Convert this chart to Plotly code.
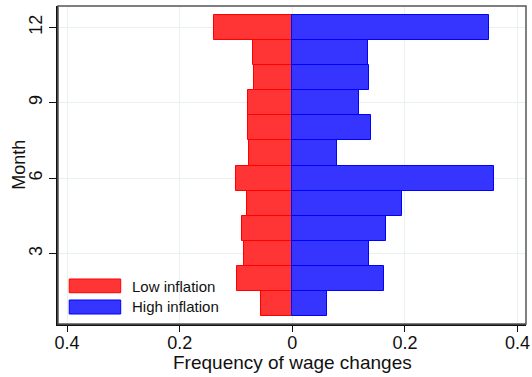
import plotly.graph_objects as go

months = [1, 2, 3, 4, 5, 6, 7, 8, 9, 10, 11, 12]
low_inflation = [0.055, 0.098, 0.086, 0.089, 0.080, 0.100, 0.077, 0.079, 0.079, 0.068, 0.070, 0.139]
high_inflation = [0.062, 0.163, 0.136, 0.166, 0.195, 0.359, 0.079, 0.139, 0.118, 0.136, 0.135, 0.349]
x_tickvals = [-0.4, -0.2, 0, 0.2, 0.4]
x_ticktext = ["0.4", "0.2", "0", "0.2", "0.4"]
y_tickvals = [3, 6, 9, 12]
series_names = ["Low inflation", "High inflation"]
x_title = "Frequency of wage changes"
y_title = "Month"

RED_FILL = "#FF3535"
RED_LINE = "#FF0000"
BLUE_FILL = "#3535FF"
BLUE_LINE = "#0000FF"
FONT = "Liberation Sans, Arial, Helvetica, sans-serif"

fig = go.Figure()
fig.add_trace(go.Bar(
    y=months, x=[-v for v in low_inflation], orientation="h", name=series_names[0],
    marker=dict(color=RED_FILL, line=dict(color=RED_LINE, width=1)),
    customdata=low_inflation, hovertemplate="Month %{y}: %{customdata}<extra>Low inflation</extra>",
    width=1, showlegend=False,
))
fig.add_trace(go.Bar(
    y=months, x=high_inflation, orientation="h", name=series_names[1],
    marker=dict(color=BLUE_FILL, line=dict(color=BLUE_LINE, width=1)),
    hovertemplate="Month %{y}: %{x}<extra>High inflation</extra>",
    width=1, showlegend=False,
))

# legend drawn as swatches + text
legend_items = [
    (series_names[0], RED_FILL, RED_LINE, 0.0984, 0.1415, 0.117),
    (series_names[1], BLUE_FILL, BLUE_LINE, 0.0314, 0.0755, 0.0535),
]
for name, fc, lc, y0, y1, yc in legend_items:
    fig.add_shape(type="rect", xref="paper", yref="paper", x0=0.024, x1=0.134, y0=y0, y1=y1,
                  fillcolor=fc, line=dict(color=lc, width=1))
    fig.add_annotation(xref="paper", yref="paper", x=0.153, y=yc, text=name, showarrow=False,
                       xanchor="left", yanchor="middle", font=dict(size=15, color="#111111", family=FONT))

# axis titles as annotations for exact placement
fig.add_annotation(xref="paper", yref="paper", x=0.5, y=-0.122, text=x_title, showarrow=False,
                   xanchor="center", yanchor="middle", font=dict(size=19, color="#111111", family=FONT))
fig.add_annotation(xref="paper", yref="paper", x=-0.084, y=0.5, text=y_title, showarrow=False,
                   textangle=-90, xanchor="center", yanchor="middle",
                   font=dict(size=18, color="#111111", family=FONT))

# frame top/right
fig.add_shape(type="rect", xref="paper", yref="paper", x0=0, x1=1, y0=0, y1=1,
              line=dict(color="#555555", width=1.5), fillcolor="rgba(0,0,0,0)", layer="above")

fig.update_layout(
    width=532, height=377,
    margin=dict(l=58, r=6, t=6, b=53, autoexpand=False),
    paper_bgcolor="white", plot_bgcolor="white",
    barmode="relative", bargap=0,
    font=dict(family=FONT, size=16, color="#111111"),
    showlegend=False,
)
fig.update_xaxes(
    range=[-0.416, 0.415], tickvals=x_tickvals, ticktext=x_ticktext,
    showgrid=True, gridcolor="#E8F0F1", gridwidth=1, zeroline=False,
    showline=True, linecolor="#111111", linewidth=1.5,
    ticks="outside", ticklen=6, tickcolor="#111111", tickwidth=1,
    tickfont=dict(size=18), ticklabelstandoff=-4,
)
fig.update_yaxes(
    range=[0.2, 12.85], tickvals=y_tickvals, tickangle=-90,
    showgrid=True, gridcolor="#E8F0F1", gridwidth=1, zeroline=False,
    showline=True, linecolor="#111111", linewidth=1.5,
    ticks="outside", ticklen=7, tickcolor="#111111", tickwidth=1,
    tickfont=dict(size=18),
)

fig.write_html("out.html", config={"displayModeBar": False},
               post_script="document.body.style.margin='0';document.body.style.overflow='hidden';")
